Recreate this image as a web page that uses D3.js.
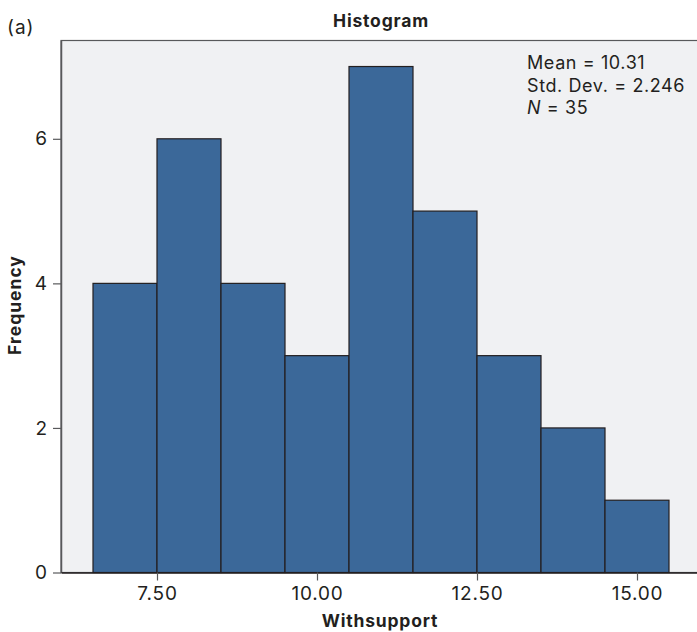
<!DOCTYPE html>
<html>
<head>
<meta charset="utf-8">
<script src="https://cdn.jsdelivr.net/npm/d3@7"></script>
<style>
  html, body { margin: 0; padding: 0; background: #ffffff; }
  svg { display: block; }
  text { font-family: "Inter", "Open Sans", sans-serif; fill: #231f20; }
</style>
</head>
<body>
<svg id="chart" width="697" height="632"></svg>
<script>
// Histogram bins of the "Withsupport" variable (unit-width bins)
const binStarts = [6.5, 7.5, 8.5, 9.5, 10.5, 11.5, 12.5, 13.5, 14.5];
const binWidth = 1;
const frequencies = [4, 6, 4, 3, 7, 5, 3, 2, 1];
const xTicks = [7.5, 10, 12.5, 15];
const yTicks = [0, 2, 4, 6];
const statsLines = ["Mean = 10.31", "Std. Dev. = 2.246", "N = 35"];

const svg = d3.select("#chart");
const plot = { left: 61, top: 40.5, bottom: 572.5, right: 701 };

const x = d3.scaleLinear().domain([6, 16]).range([plot.left, plot.right]);
const y = d3.scaleLinear().domain([0, 7.36]).range([plot.bottom, plot.top]);

// plot background
svg.append("rect")
  .attr("x", plot.left).attr("y", plot.top)
  .attr("width", plot.right - plot.left).attr("height", plot.bottom - plot.top)
  .attr("fill", "#f0f1f3")
  .attr("stroke", "#58595b").attr("stroke-width", 1.2);

// bars
svg.append("g").selectAll("rect")
  .data(binStarts.map((s, i) => ({ s, f: frequencies[i] })))
  .join("rect")
  .attr("x", d => x(d.s))
  .attr("y", d => y(d.f))
  .attr("width", d => x(d.s + binWidth) - x(d.s))
  .attr("height", d => y(0) - y(d.f))
  .attr("fill", "#3b6899")
  .attr("stroke", "#231f20")
  .attr("stroke-width", 1.2);

// y axis
const yAxis = svg.append("g")
  .attr("transform", `translate(${plot.left},0)`)
  .call(d3.axisLeft(y).tickValues(yTicks).tickFormat(d3.format("d"))
    .tickSizeInner(8).tickSizeOuter(0).tickPadding(6));
yAxis.select(".domain").attr("stroke", "#58595b").attr("stroke-width", 1.5);
yAxis.selectAll(".tick line").attr("stroke", "#58595b").attr("stroke-width", 1.2);
yAxis.selectAll(".tick text").style("font-size", "19px").attr("fill", "#231f20");

// x axis
const xAxis = svg.append("g")
  .attr("transform", `translate(0,${plot.bottom})`)
  .call(d3.axisBottom(x).tickValues(xTicks).tickFormat(d3.format(".2f"))
    .tickSizeInner(8).tickSizeOuter(0).tickPadding(6));
xAxis.select(".domain").attr("stroke", "#231f20").attr("stroke-width", 1.5);
xAxis.selectAll(".tick line").attr("stroke", "#58595b").attr("stroke-width", 1.2);
xAxis.selectAll(".tick text").style("font-size", "19px").style("letter-spacing", "0.8px")
  .attr("fill", "#231f20");

// titles
svg.append("text").attr("x", 381).attr("y", 27).attr("text-anchor", "middle")
  .style("font-size", "17.5px").style("font-weight", "bold").style("letter-spacing", "0.8px")
  .text("Histogram");
svg.append("text").attr("x", 380).attr("y", 627).attr("text-anchor", "middle")
  .style("font-size", "17.5px").style("font-weight", "bold").style("letter-spacing", "0.8px")
  .text("Withsupport");
svg.append("text")
  .attr("transform", "translate(21,305) rotate(-90)")
  .attr("text-anchor", "middle")
  .style("font-size", "17.5px").style("font-weight", "bold").style("letter-spacing", "1px")
  .text("Frequency");
svg.append("text").attr("x", 7).attr("y", 34)
  .style("font-size", "19px").style("letter-spacing", "1px").text("(a)");

// summary statistics
const stats = svg.append("text").attr("x", 527).attr("y", 69)
  .style("font-size", "18px").style("letter-spacing", "0.6px");
statsLines.forEach((line, i) => {
  const t = stats.append("tspan").attr("x", 527).attr("dy", i === 0 ? 0 : 22.5);
  if (line.startsWith("N ")) {
    t.append("tspan").style("font-style", "italic").text("N");
    t.append("tspan").text(line.slice(1));
  } else {
    t.text(line);
  }
});
</script>
</body>
</html>
